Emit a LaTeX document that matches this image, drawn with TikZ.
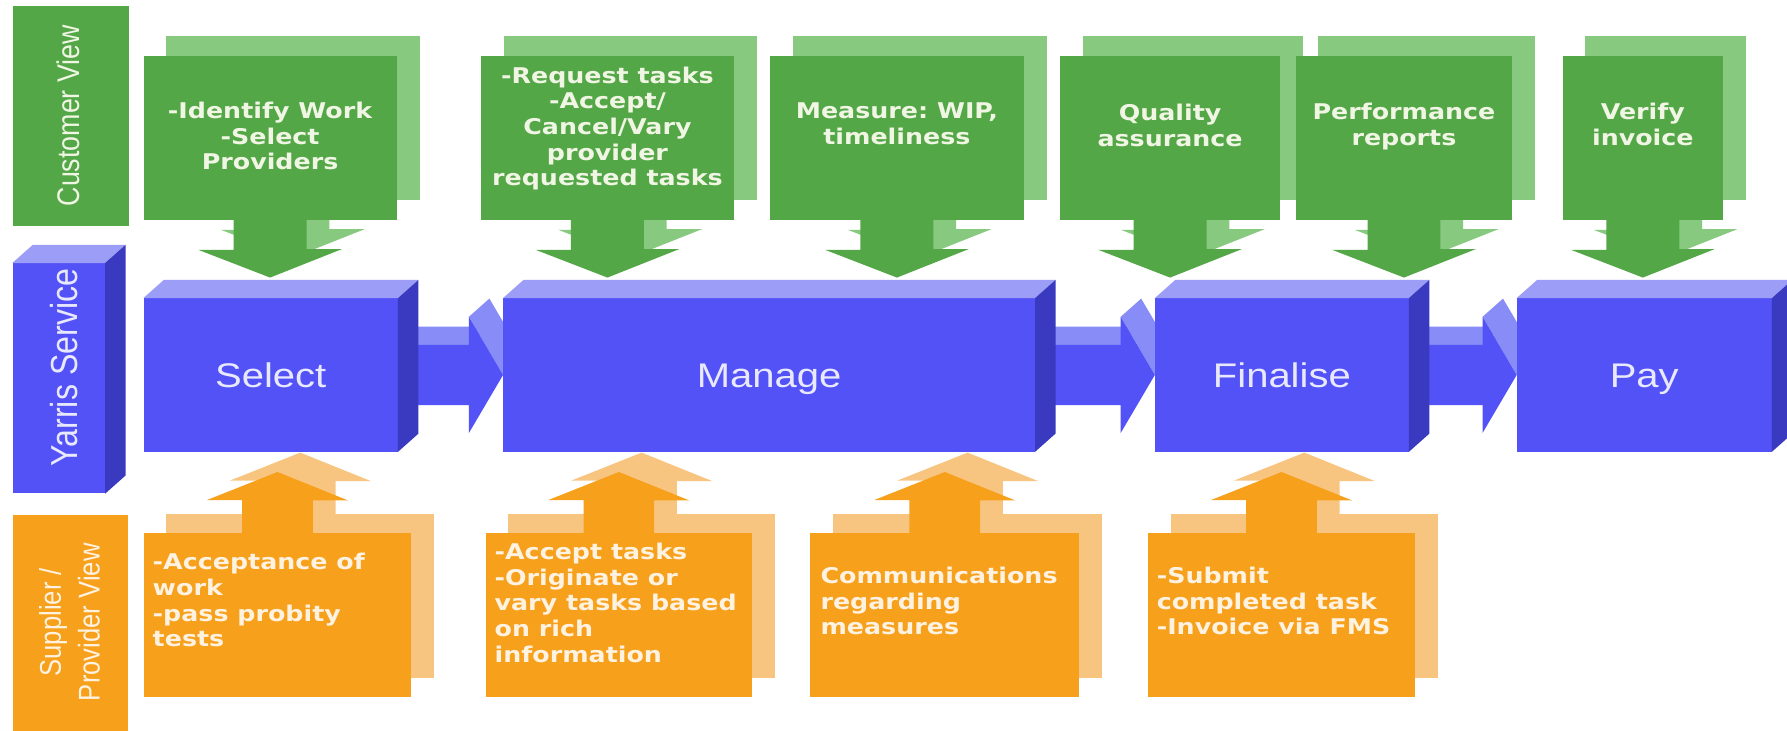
\documentclass[tikz,border=0pt]{standalone}
\usepackage{fontspec}
\usetikzlibrary{calc,backgrounds}
\newfontfamily\notefont[FakeStretch=1.17]{DejaVu Sans}
\newfontfamily\boxfont[FakeStretch=1.17]{Liberation Sans}
\newfontfamily\sidefont[FakeStretch=0.855]{Liberation Sans}
\definecolor{leafgreen}{RGB}{83,167,71}
\definecolor{palegreen}{RGB}{135,201,127}
\definecolor{boxblue}{RGB}{82,82,246}
\definecolor{topblue}{RGB}{155,157,246}
\definecolor{sideblue}{RGB}{58,58,192}
\definecolor{stemblue}{RGB}{135,140,246}
\definecolor{amber}{RGB}{246,160,28}
\definecolor{paleamber}{RGB}{248,197,128}
\definecolor{greentext}{RGB}{240,245,228}
\definecolor{ambertext}{RGB}{255,242,225}
\definecolor{bluetext}{RGB}{232,232,255}
\frenchspacing
\begin{document}
\begin{tikzpicture}[x=1pt, y=-1pt,
        blubox/.style={fill=boxblue, inner sep=0pt, minimum height=134.5pt, text=bluetext,
            font=\boxfont\fontsize{30}{36}\selectfont, text height=21.5pt, text depth=0pt},
        topface/.style={fill=topblue},
        sideface/.style={fill=sideblue},
        gbox/.style={fill=leafgreen, inner sep=0pt, minimum height=144pt},
        gshade/.style={fill=palegreen},
        gtext/.style={inner sep=0pt, align=center, text=greentext,
            font=\notefont\bfseries\fontsize{19}{22.5}\selectfont},
        obox/.style={fill=amber, inner sep=0pt, minimum height=143.5pt},
        oshade/.style={fill=paleamber},
        otext/.style={inner sep=0pt, align=left, text=ambertext,
            font=\notefont\bfseries\fontsize{19}{22.5}\selectfont},
        sidetext/.style={inner sep=0pt, rotate=90, text depth=0pt}]
    \useasboundingbox (0,0) rectangle (1568,641);
    \begin{pgfonlayer}{background}
        \fill[white] (0,0) rectangle (1568,641);
    \end{pgfonlayer}

    % row labels
    \node[fill=leafgreen, minimum width=102pt, minimum height=193pt, inner sep=0pt] (custbar) at (62,101.5) {};
    \node[sidetext, text=greentext, text height=19.7pt, font=\sidefont\fontsize{27.5}{33}\selectfont] (custlbl) at (60,101.5) {Customer View};
    \node[fill=boxblue, minimum width=81pt, minimum height=202pt, inner sep=0pt] (yarris) at (51.5,332) {};
    \node[sidetext, text=bluetext, text height=23.6pt, font=\sidefont\fontsize{33}{40}\selectfont] (yarrislbl) at (56.3,322.5) {Yarris Service};
    \node[fill=amber, minimum width=101pt, minimum height=200pt, inner sep=0pt] (suppbar) at (62,552) {};
    \node[inner sep=0pt, rotate=90, align=center, text=ambertext, font=\sidefont\fontsize{26.3}{34}\selectfont] (supplbl) at (61,546) {Supplier /\\Provider View};

    % service steps
    \node[blubox, minimum width=223pt] (select) at (237.5,329) {Select};
    \node[blubox, minimum width=466.4pt] (manage) at (674.8,329) {Manage};
    \node[blubox, minimum width=222.5pt] (finalise) at (1124.75,329) {Finalise};
    \node[blubox, minimum width=223.5pt] (pay) at (1442.75,329) {Pay};

    \path[topface] (yarris.north west) -- ([shift={(18,-16)}]yarris.north west) -- ([shift={(18,-16)}]yarris.north east) -- (yarris.north east) -- cycle;
    \path[sideface] (yarris.north east) -- ([shift={(18,-16)}]yarris.north east) -- ([shift={(18,-16)}]yarris.south east) -- (yarris.south east) -- cycle;
    \path[topface] (select.north west) -- ([shift={(18,-16)}]select.north west) -- ([shift={(18,-16)}]select.north east) -- (select.north east) -- cycle;
    \path[sideface] (select.north east) -- ([shift={(18,-16)}]select.north east) -- ([shift={(18,-16)}]select.south east) -- (select.south east) -- cycle;
    \path[topface] (manage.north west) -- ([shift={(18,-16)}]manage.north west) -- ([shift={(18,-16)}]manage.north east) -- (manage.north east) -- cycle;
    \path[sideface] (manage.north east) -- ([shift={(18,-16)}]manage.north east) -- ([shift={(18,-16)}]manage.south east) -- (manage.south east) -- cycle;
    \path[topface] (finalise.north west) -- ([shift={(18,-16)}]finalise.north west) -- ([shift={(18,-16)}]finalise.north east) -- (finalise.north east) -- cycle;
    \path[sideface] (finalise.north east) -- ([shift={(18,-16)}]finalise.north east) -- ([shift={(18,-16)}]finalise.south east) -- (finalise.south east) -- cycle;
    \path[topface] (pay.north west) -- ([shift={(18,-16)}]pay.north west) -- ([shift={(18,-16)}]pay.north east) -- (pay.north east) -- cycle;
    \path[sideface] (pay.north east) -- ([shift={(18,-16)}]pay.north east) -- ([shift={(18,-16)}]pay.south east) -- (pay.south east) -- cycle;

    % customer view
    \node[gbox, minimum width=222pt] (gwork) at (237,121) {};
    \node[gtext, anchor=north] (gworktxt) at ([shift={(0,39.25)}]gwork.north) {\strut-Identify Work\\-Select\\Providers};
    \path[fill=leafgreen] ([shift={(-32,0)}]gwork.south) -- ++(0,26) -- ++(-31,0) -- ($(gwork.south |- select.north)+(0,-18)$) -- ++(63,-25) -- ++(-31,0) -- ++(0,-26) -- cycle;

    \node[gbox, minimum width=222pt] (greq) at (533,121) {};
    \node[gtext, anchor=north] (greqtxt) at ([shift={(0,8.25)}]greq.north) {\strut-Request tasks\\-Accept/\\Cancel/Vary\\provider\\requested tasks};
    \path[fill=leafgreen] ([shift={(-32,0)}]greq.south) -- ++(0,26) -- ++(-31,0) -- ($(greq.south |- manage.north)+(0,-18)$) -- ++(63,-25) -- ++(-31,0) -- ++(0,-26) -- cycle;

    \node[gbox, minimum width=222.7pt] (gmeas) at (787,121) {};
    \node[gtext, anchor=north] (gmeastxt) at ([shift={(0,39.5)}]gmeas.north) {\strut Measure: WIP,\\timeliness};
    \path[fill=leafgreen] ([shift={(-32,0)}]gmeas.south) -- ++(0,26) -- ++(-31,0) -- ($(gmeas.south |- manage.north)+(0,-18)$) -- ++(63,-25) -- ++(-31,0) -- ++(0,-26) -- cycle;

    \node[gbox, minimum width=192.7pt] (gqual) at (1026.7,121) {};
    \node[gtext, anchor=north] (gqualtxt) at ([shift={(0,41)}]gqual.north) {\strut Quality\\assurance};
    \path[fill=leafgreen] ([shift={(-32,0)}]gqual.south) -- ++(0,26) -- ++(-31,0) -- ($(gqual.south |- finalise.north)+(0,-18)$) -- ++(63,-25) -- ++(-31,0) -- ++(0,-26) -- cycle;

    \node[gbox, minimum width=189.7pt] (gperf) at (1231.9,121) {};
    \node[gtext, anchor=north] (gperftxt) at ([shift={(0,40.5)}]gperf.north) {\strut Performance\\reports};
    \path[fill=leafgreen] ([shift={(-32,0)}]gperf.south) -- ++(0,26) -- ++(-31,0) -- ($(gperf.south |- finalise.north)+(0,-18)$) -- ++(63,-25) -- ++(-31,0) -- ++(0,-26) -- cycle;

    \node[gbox, minimum width=141pt] (gverify) at (1441.5,121) {};
    \node[gtext, anchor=north] (gverifytxt) at ([shift={(0,40)}]gverify.north) {\strut Verify\\invoice};
    \path[fill=leafgreen] ([shift={(-32,0)}]gverify.south) -- ++(0,26) -- ++(-31,0) -- ($(gverify.south |- pay.north)+(0,-18)$) -- ++(63,-25) -- ++(-31,0) -- ++(0,-26) -- cycle;

    % supplier / provider view
    \node[obox, minimum width=235pt] (owork) at (243.5,539.75) {};
    \node[otext, anchor=north west] (oworktxt) at ([shift={(8,16.25)}]owork.north west) {\strut-Acceptance of\\work\\-pass probity\\tests};
    \path[fill=amber] ([shift={(-31,0)}]owork.north) -- ++(0,-29) -- ++(-31,0) -- ($(owork.north |- select.south)+(0,17.7)$) -- ++(62,25) -- ++(-31,0) -- ++(0,29) -- cycle;

    \node[obox, minimum width=234pt] (otasks) at (543,539.75) {};
    \node[otext, anchor=north west] (otaskstxt) at ([shift={(8,7.25)}]otasks.north west) {\strut-Accept tasks\\-Originate or\\vary tasks based\\on rich\\information};
    \path[fill=amber] ([shift={(-31,0)}]otasks.north) -- ++(0,-29) -- ++(-31,0) -- ($(otasks.north |- manage.south)+(0,17.7)$) -- ++(62,25) -- ++(-31,0) -- ++(0,29) -- cycle;

    \node[obox, minimum width=236pt] (ocomms) at (829,539.75) {};
    \node[otext, anchor=north west] (ocommstxt) at ([shift={(9,28.25)}]ocomms.north west) {\strut Communications\\regarding\\measures};
    \path[fill=amber] ([shift={(-31,0)}]ocomms.north) -- ++(0,-29) -- ++(-31,0) -- ($(ocomms.north |- manage.south)+(0,17.7)$) -- ++(62,25) -- ++(-31,0) -- ++(0,29) -- cycle;

    \node[obox, minimum width=234pt] (osubmit) at (1124.5,539.75) {};
    \node[otext, anchor=north west] (osubmittxt) at ([shift={(7.5,28.25)}]osubmit.north west) {\strut-Submit\\completed task\\-Invoice via FMS};
    \path[fill=amber] ([shift={(-31,0)}]osubmit.north) -- ++(0,-29) -- ++(-31,0) -- ($(osubmit.north |- finalise.south)+(0,17.7)$) -- ++(62,25) -- ++(-31,0) -- ++(0,29) -- cycle;

    \begin{pgfonlayer}{background}
        % flow between steps
        \path[fill=stemblue] ([shift={(0,-26.5)}]select.east) -- ([shift={(-30,-26.5)}]manage.west) -- ([shift={(-12,-42.5)}]manage.west) -- ([shift={(18,-42.5)}]select.east) -- cycle;
        \path[fill=stemblue] ([shift={(-30,-51)}]manage.west) -- (manage.west) -- ([shift={(18,-16)}]manage.west) -- ([shift={(-12,-67)}]manage.west) -- cycle;
        \path[fill=boxblue] ([shift={(0,-26.5)}]select.east) -- ([shift={(-30,-26.5)}]manage.west) -- ([shift={(-30,-51)}]manage.west) -- (manage.west) -- ([shift={(-30,51)}]manage.west) -- ([shift={(-30,26.5)}]manage.west) -- ([shift={(0,26.5)}]select.east) -- cycle;

        \path[fill=stemblue] ([shift={(0,-26.5)}]manage.east) -- ([shift={(-30,-26.5)}]finalise.west) -- ([shift={(-12,-42.5)}]finalise.west) -- ([shift={(18,-42.5)}]manage.east) -- cycle;
        \path[fill=stemblue] ([shift={(-30,-51)}]finalise.west) -- (finalise.west) -- ([shift={(18,-16)}]finalise.west) -- ([shift={(-12,-67)}]finalise.west) -- cycle;
        \path[fill=boxblue] ([shift={(0,-26.5)}]manage.east) -- ([shift={(-30,-26.5)}]finalise.west) -- ([shift={(-30,-51)}]finalise.west) -- (finalise.west) -- ([shift={(-30,51)}]finalise.west) -- ([shift={(-30,26.5)}]finalise.west) -- ([shift={(0,26.5)}]manage.east) -- cycle;

        \path[fill=stemblue] ([shift={(0,-26.5)}]finalise.east) -- ([shift={(-30,-26.5)}]pay.west) -- ([shift={(-12,-42.5)}]pay.west) -- ([shift={(18,-42.5)}]finalise.east) -- cycle;
        \path[fill=stemblue] ([shift={(-30,-51)}]pay.west) -- (pay.west) -- ([shift={(18,-16)}]pay.west) -- ([shift={(-12,-67)}]pay.west) -- cycle;
        \path[fill=boxblue] ([shift={(0,-26.5)}]finalise.east) -- ([shift={(-30,-26.5)}]pay.west) -- ([shift={(-30,-51)}]pay.west) -- (pay.west) -- ([shift={(-30,51)}]pay.west) -- ([shift={(-30,26.5)}]pay.west) -- ([shift={(0,26.5)}]finalise.east) -- cycle;

        % shadow copies
        \path[gshade] ([shift={(20,-17.5)}]gwork.north west) rectangle ([shift={(20,-17.5)}]gwork.south east);
        \path[gshade] ([shift={(-12,-17.5)}]gwork.south) -- ++(0,26) -- ++(-31,0) -- ($(gwork.south |- select.north)+(20,-35.5)$) -- ++(63,-25) -- ++(-31,0) -- ++(0,-26) -- cycle;
        \path[gshade] ([shift={(20,-17.5)}]greq.north west) rectangle ([shift={(20,-17.5)}]greq.south east);
        \path[gshade] ([shift={(-12,-17.5)}]greq.south) -- ++(0,26) -- ++(-31,0) -- ($(greq.south |- manage.north)+(20,-35.5)$) -- ++(63,-25) -- ++(-31,0) -- ++(0,-26) -- cycle;
        \path[gshade] ([shift={(20,-17.5)}]gmeas.north west) rectangle ([shift={(20,-17.5)}]gmeas.south east);
        \path[gshade] ([shift={(-12,-17.5)}]gmeas.south) -- ++(0,26) -- ++(-31,0) -- ($(gmeas.south |- manage.north)+(20,-35.5)$) -- ++(63,-25) -- ++(-31,0) -- ++(0,-26) -- cycle;
        \path[gshade] ([shift={(20,-17.5)}]gqual.north west) rectangle ([shift={(20,-17.5)}]gqual.south east);
        \path[gshade] ([shift={(-12,-17.5)}]gqual.south) -- ++(0,26) -- ++(-31,0) -- ($(gqual.south |- finalise.north)+(20,-35.5)$) -- ++(63,-25) -- ++(-31,0) -- ++(0,-26) -- cycle;
        \path[gshade] ([shift={(20,-17.5)}]gperf.north west) rectangle ([shift={(20,-17.5)}]gperf.south east);
        \path[gshade] ([shift={(-12,-17.5)}]gperf.south) -- ++(0,26) -- ++(-31,0) -- ($(gperf.south |- finalise.north)+(20,-35.5)$) -- ++(63,-25) -- ++(-31,0) -- ++(0,-26) -- cycle;
        \path[gshade] ([shift={(20,-17.5)}]gverify.north west) rectangle ([shift={(20,-17.5)}]gverify.south east);
        \path[gshade] ([shift={(-12,-17.5)}]gverify.south) -- ++(0,26) -- ++(-31,0) -- ($(gverify.south |- pay.north)+(20,-35.5)$) -- ++(63,-25) -- ++(-31,0) -- ++(0,-26) -- cycle;

        \path[oshade] ([shift={(20,-17)}]owork.north west) rectangle ([shift={(20,-17)}]owork.south east);
        \path[oshade] ([shift={(-11,-17)}]owork.north) -- ++(0,-29) -- ++(-31,0) -- ($(owork.north |- select.south)+(20,0.7)$) -- ++(62,25) -- ++(-31,0) -- ++(0,29) -- cycle;
        \path[oshade] ([shift={(20,-17)}]otasks.north west) rectangle ([shift={(20,-17)}]otasks.south east);
        \path[oshade] ([shift={(-11,-17)}]otasks.north) -- ++(0,-29) -- ++(-31,0) -- ($(otasks.north |- manage.south)+(20,0.7)$) -- ++(62,25) -- ++(-31,0) -- ++(0,29) -- cycle;
        \path[oshade] ([shift={(20,-17)}]ocomms.north west) rectangle ([shift={(20,-17)}]ocomms.south east);
        \path[oshade] ([shift={(-11,-17)}]ocomms.north) -- ++(0,-29) -- ++(-31,0) -- ($(ocomms.north |- manage.south)+(20,0.7)$) -- ++(62,25) -- ++(-31,0) -- ++(0,29) -- cycle;
        \path[oshade] ([shift={(20,-17)}]osubmit.north west) rectangle ([shift={(20,-17)}]osubmit.south east);
        \path[oshade] ([shift={(-11,-17)}]osubmit.north) -- ++(0,-29) -- ++(-31,0) -- ($(osubmit.north |- finalise.south)+(20,0.7)$) -- ++(62,25) -- ++(-31,0) -- ++(0,29) -- cycle;
    \end{pgfonlayer}
\end{tikzpicture}
\end{document}
